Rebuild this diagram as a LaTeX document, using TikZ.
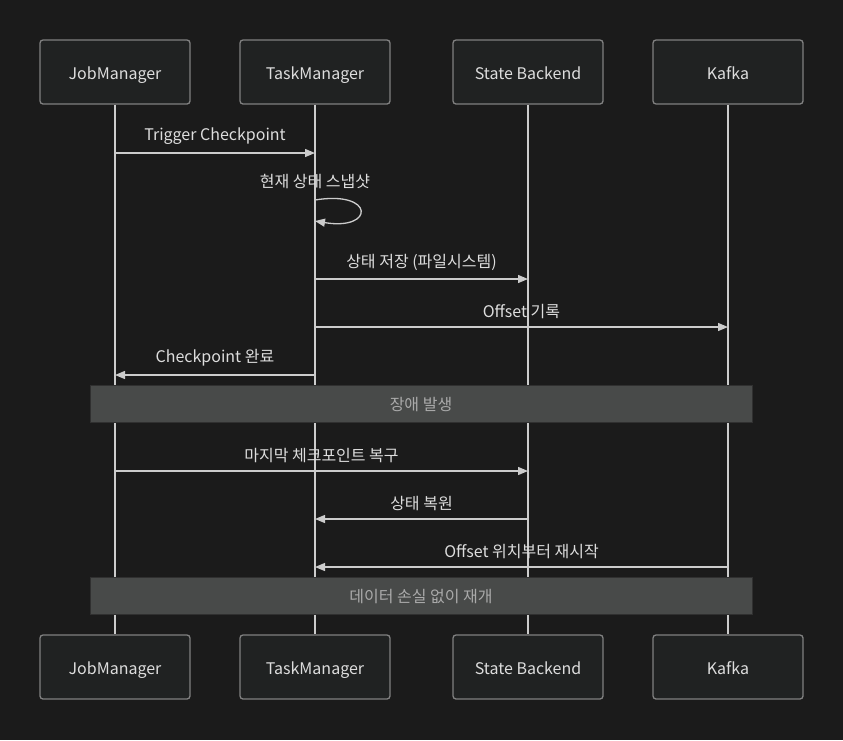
\documentclass[tikz,border=0pt]{standalone}
\usepackage{fontspec}
\setmainfont{Noto Sans CJK KR}
\usetikzlibrary{arrows.meta}
\definecolor{bg}{HTML}{1B1B1B}
\definecolor{boxfill}{HTML}{202222}
\definecolor{boxline}{HTML}{808080}
\definecolor{lifeline}{HTML}{CCCCCC}
\definecolor{txt}{HTML}{DDDDDD}
\definecolor{notefill}{HTML}{484A49}
\definecolor{noteline}{HTML}{303030}
\definecolor{notetxt}{HTML}{AAAAAA}
\tikzset{
  actor/.style={draw=boxline, fill=boxfill, line width=1.3pt, rounded corners=3pt,
    minimum width=150pt, minimum height=64pt, inner sep=0pt, text=txt,
    text height=15pt, text depth=1pt, font=\fontsize{16}{19}\selectfont},
  life/.style={draw=lifeline, line width=1.3pt},
  msg/.style={draw=lifeline, line width=1.3pt, -{Triangle[length=10pt,width=8pt]}},
  lbl/.style={text=txt, font=\fontsize{16}{19}\selectfont, inner sep=0pt},
  notebox/.style={draw=noteline, fill=notefill, line width=1pt, minimum width=662pt,
    minimum height=37pt, inner sep=0pt, text=notetxt,
    text height=15pt, text depth=1pt, font=\fontsize{16}{19}\selectfont},
}
\begin{document}
\begin{tikzpicture}[x=1pt,y=-1pt]
\fill[bg] (0,0) rectangle (843,740);
\useasboundingbox (0,0) rectangle (843,740);
% actors top
\node[actor] (jmT) at (115,72) {JobManager};
\node[actor] (tmT) at (315,72) {TaskManager};
\node[actor] (sbT) at (528,72) {State Backend};
\node[actor] (kfT) at (728,72) {Kafka};
% actors bottom
\node[actor] (jmB) at (115,667) {JobManager};
\node[actor] (tmB) at (315,667) {TaskManager};
\node[actor] (sbB) at (528,667) {State Backend};
\node[actor] (kfB) at (728,667) {Kafka};
% lifelines
\draw[life] (jmT) -- (jmB);
\draw[life] (tmT) -- (tmB);
\draw[life] (sbT) -- (sbB);
\draw[life] (kfT) -- (kfB);
% rows
\coordinate (r1) at (0,153);
\coordinate (r2a) at (0,200);
\coordinate (r2b) at (0,221);
\coordinate (r3) at (0,279);
\coordinate (r4) at (0,327);
\coordinate (r5) at (0,375);
\coordinate (r6) at (0,471);
\coordinate (r7) at (0,519);
\coordinate (r8) at (0,567);
% messages
\draw[msg] (jmT |- r1) -- node[lbl, above=8pt] {Trigger Checkpoint} (tmT |- r1);
\node[lbl] (l2) at (315,182) {현재 상태 스냅샷};
\draw[msg] (tmT |- r2a) .. controls (375,190) and (375,231) .. (tmT |- r2b);
\draw[msg] (tmT |- r3) -- node[lbl, above=8pt] {상태 저장 (파일시스템)} (sbT |- r3);
\draw[msg] (tmT |- r4) -- node[lbl, above=8pt] {Offset 기록} (kfT |- r4);
\draw[msg] (tmT |- r5) -- node[lbl, above=8pt] {Checkpoint 완료} (jmT |- r5);
\node[notebox] (n1) at (421,403.5) {장애 발생};
\draw[msg] (jmT |- r6) -- node[lbl, above=8pt] {마지막 체크포인트 복구} (sbT |- r6);
\draw[msg] (sbT |- r7) -- node[lbl, above=8pt] {상태 복원} (tmT |- r7);
\draw[msg] (kfT |- r8) -- node[lbl, above=8pt] {Offset 위치부터 재시작} (tmT |- r8);
\node[notebox] (n2) at (421,595.5) {데이터 손실 없이 재개};
\end{tikzpicture}
\end{document}
